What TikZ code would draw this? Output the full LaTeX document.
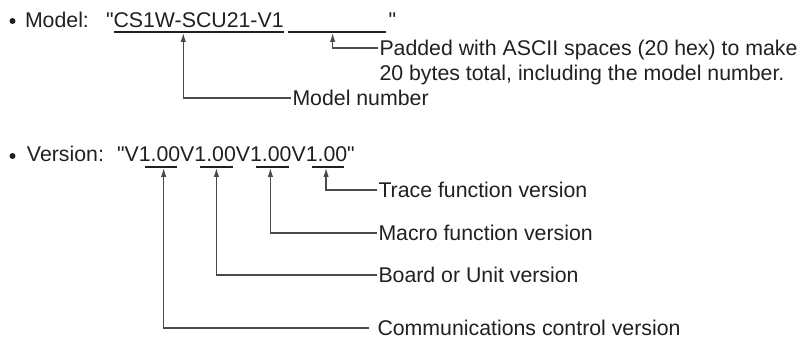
\documentclass[tikz,border=0pt]{standalone}
\usepackage{fontspec}
\setmainfont{Liberation Sans}[Ligatures=TeXOff]
\usetikzlibrary{arrows.meta,calc}
\definecolor{ink}{HTML}{231F20}
\definecolor{connc}{HTML}{4A4A4A}
\begin{document}
\begin{tikzpicture}[x=1pt,y=-1pt,
  txt/.style={inner sep=0pt, outer sep=0pt, font=\fontsize{21.3}{25}\selectfont, text=ink, anchor=base west},
  lbl/.style={inner sep=0pt, outer sep=1.5pt, font=\fontsize{21.3}{25}\selectfont, text=ink, anchor=west, text height=15.3pt, text depth=0pt},
  uline/.style={draw=ink, line width=1.4pt},
  conn/.style={draw=connc, line width=1.2pt, -{Latex[length=9pt,width=5.5pt]}},
  dot/.style={fill=ink}]
\useasboundingbox (0,0) rectangle (801,339);

% ---------- Model line ----------
\fill[dot] (12.5,21) circle (3pt);
\node[txt] (mlab) at (25,28) {Model:};
\node[txt] (mq1) at (106,28) {"};
\node[txt] (mnum) at (mq1.base east) {CS1W-SCU21-V1};
\draw[uline] ($(mnum.base west)+(0,4)$) -- ($(mnum.base east)+(0,4)$);
\coordinate (mnumT) at ($(mnum.base west)!0.41!(mnum.base east)+(0,5)$);
\coordinate (padL) at ($(mnum.base east)+(4,4)$);
\coordinate (padR) at ($(padL)+(98,0)$);
\draw[uline] (padL) -- (padR);
\coordinate (padT) at ($(padL)+(45,1)$);
\node[txt] (mq2) at ($(padR)+(3,-4)$) {"};

\node[lbl] (pad1) at (378,48) {Padded with ASCII spaces (20 hex) to make};
\node[lbl] (pad2) at (378,73) {20 bytes total, including the model number.};
\node[lbl] (mnlab) at (291,98) {Model number};
\draw[conn] (pad1.west) -| (padT);
\draw[conn] (mnlab.west) -| (mnumT);

% ---------- Version line ----------
\fill[dot] (12.5,156) circle (3pt);
\node[txt] (vlab) at (27,162) {Version:};
\node[txt] (vq1) at (117,162) {"};
\node[txt] (va) at (vq1.base east) {V};
\node[txt] (v1) at (va.base east) {1.00};
\node[txt] (vb) at (v1.base east) {V};
\node[txt] (v2) at (vb.base east) {1.00};
\node[txt] (vc) at (v2.base east) {V};
\node[txt] (v3) at (vc.base east) {1.00};
\node[txt] (vd) at (v3.base east) {V};
\node[txt] (v4) at (vd.base east) {1.00};
\node[txt] (vq2) at (v4.base east) {"};

\foreach \v in {v1,v2,v3,v4}{
  \draw[uline] ($(\v.base west)+(6,5)$) -- ($(\v.base east)+(-3,5)$);
}
\coordinate (t1) at ($(v1.base west)!0.60!(v1.base east)+(0,6)$);
\coordinate (t2) at ($(v2.base west)!0.53!(v2.base east)+(0,6)$);
\coordinate (t3) at ($(v3.base west)!0.49!(v3.base east)+(0,6)$);
\coordinate (t4) at ($(v4.base west)!0.49!(v4.base east)+(0,6)$);

\node[lbl] (trace) at (377,190) {Trace function version};
\node[lbl] (macro) at (377,233) {Macro function version};
\node[lbl] (board) at (377,275) {Board or Unit version};
\node[lbl] (comm) at (376,328) {Communications control version};
\coordinate (commE) at ($(comm.west)+(-7,0)$);

\draw[conn] (trace.west) -| (t4);
\draw[conn] (macro.west) -| (t3);
\draw[conn] (board.west) -| (t2);
\draw[conn] (commE) -| (t1);
\end{tikzpicture}
\end{document}
